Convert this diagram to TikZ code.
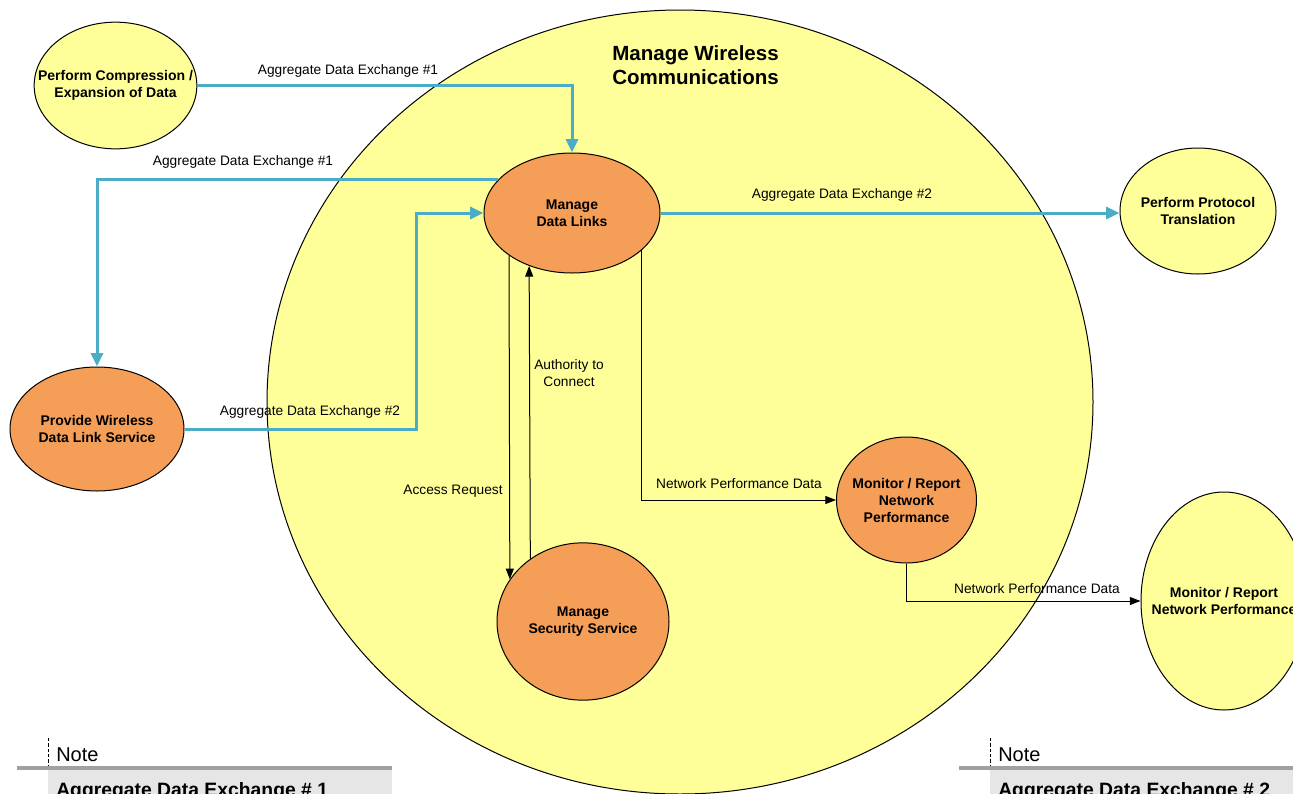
\documentclass[tikz,border=0pt]{standalone}
\usepackage{fontspec}
\setmainfont{Liberation Sans}
\usetikzlibrary{shapes.geometric,arrows.meta}
\definecolor{yel}{HTML}{FFFF99}
\definecolor{org}{HTML}{F59E58}
\definecolor{blu}{HTML}{4BACC6}
\definecolor{barg}{HTML}{A0A0A0}
\definecolor{boxg}{HTML}{E6E6E6}
\begin{document}
\begin{tikzpicture}[x=0.75pt,y=-0.75pt,
 proc/.style={ellipse,draw=black,line width=0.75pt,inner sep=0pt},
 ptext/.style={align=center,inner sep=0pt,font=\fontsize{10.5}{12.75}\selectfont\bfseries},
 yproc/.style={proc,fill=yel},
 oproc/.style={proc,fill=org},
 flow/.style={blu,line width=2.25pt,-{Triangle[length=10pt,width=9pt]}},
 ctl/.style={black,line width=0.75pt,-{Triangle[length=8pt,width=6pt]}},
 lbl/.style={font=\fontsize{10.3}{12.5}\selectfont,inner sep=0pt,align=center},
 notetxt/.style={font=\fontsize{15}{18}\selectfont,anchor=base west,inner sep=0pt},
 notehead/.style={font=\fontsize{14.5}{18}\selectfont\bfseries,anchor=base west,inner sep=0pt}]
\useasboundingbox (0,0) rectangle (1293,793);
% big context ellipse
\node[yproc, minimum width=619.5pt, minimum height=588pt] (big) at (680,402) {};
\node[font=\fontsize{15.4}{18}\selectfont\bfseries, align=left, anchor=west, inner sep=0pt] (title) at (612,65) {Manage Wireless\\Communications};
% processes
\node[yproc, minimum width=122pt, minimum height=95pt,
  label={[ptext]center:{Perform Compression /\\Expansion of Data}}] (comp) at (115.5,85.5) {};
\node[oproc, minimum width=132pt, minimum height=90pt,
  label={[ptext]center:{Manage\\Data Links}}] (mdl) at (572,213) {};
\node[yproc, minimum width=117pt, minimum height=94.5pt,
  label={[ptext]center:{Perform Protocol\\Translation}}] (ppt) at (1198,211) {};
\node[oproc, minimum width=130.5pt, minimum height=93pt,
  label={[ptext]center:{Provide Wireless\\Data Link Service}}] (pw) at (97,429) {};
\node[oproc, minimum width=105pt, minimum height=94.5pt,
  label={[ptext]center:{Monitor / Report\\Network\\Performance}}] (mon) at (906.5,500) {};
\node[oproc, minimum width=129pt, minimum height=118pt,
  label={[ptext]center:{Manage\\Security Service}}] (sec) at (583,621.5) {};
\node[yproc, minimum width=124.5pt, minimum height=163.5pt,
  label={[ptext]center:{Monitor / Report\\Network Performance}}] (mon2) at (1224,601) {};
% connectors
\coordinate (j1) at (416,0);
\draw[flow] (comp.east) -| (mdl.north);
\draw[flow] (mdl.156) -| (pw.north);
\draw[flow] (pw.east) -- (pw.east -| j1) |- (mdl.west);
\draw[flow] (mdl.east) -- (mdl.east -| ppt.west);
\draw[ctl] (mdl.214.5) -- (sec.150.4);
\draw[ctl] (sec.130.6) -- (mdl.231.4);
\draw[ctl] (mdl.332.5) |- (mon.west);
\draw[ctl] (mon.south) |- (mon2.west);
% labels
\node[lbl] (l1) at (348,71) {Aggregate Data Exchange \#1};
\node[lbl] (l2) at (243,162) {Aggregate Data Exchange \#1};
\node[lbl] (l3) at (842,195) {Aggregate Data Exchange \#2};
\node[lbl] (l4) at (310,412) {Aggregate Data Exchange \#2};
\node[lbl] (l5) at (569,373) {Authority to\\Connect};
\node[lbl] (l6) at (453,491) {Access Request};
\node[lbl] (l7) at (739,484) {Network Performance Data};
\node[lbl] (l8) at (1037,589) {Network Performance Data};
% notes
\fill[boxg] (48,770) rectangle (392,800);
\draw[barg,line width=3pt] (17,768) -- (392,768);
\draw[line width=0.6pt,dash pattern=on 2.5pt off 1.5pt] (48,738) -- (48,766);
\node[notetxt] (note1) at (56,761) {Note};
\node[notehead] (ade1) at (56,796) {Aggregate Data Exchange \# 1};
\fill[boxg] (990,770) rectangle (1300,800);
\draw[barg,line width=3pt] (959,768) -- (1300,768);
\draw[line width=0.6pt,dash pattern=on 2.5pt off 1.5pt] (990,738) -- (990,766);
\node[notetxt] (note2) at (998,761) {Note};
\node[notehead] (ade2) at (998,796) {Aggregate Data Exchange \# 2};
\end{tikzpicture}
\end{document}
